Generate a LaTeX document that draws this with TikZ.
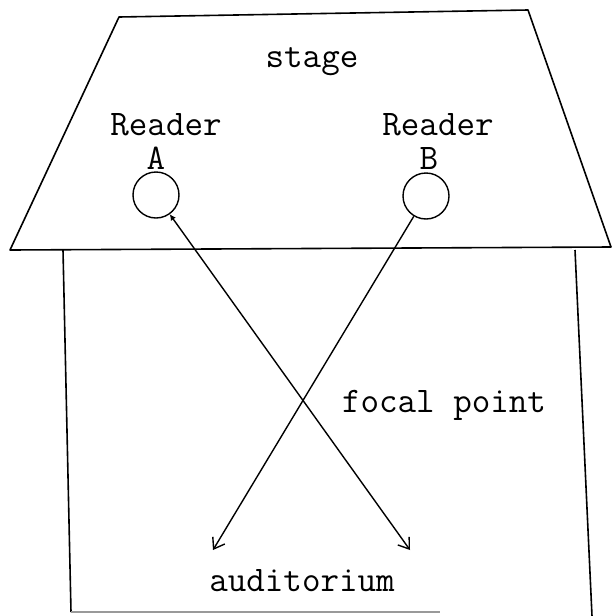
\documentclass[tikz,border=0pt]{standalone}
\usepackage{tikz}
\usetikzlibrary{arrows.meta,positioning}

\begin{document}
\begin{tikzpicture}[x=0.5pt,y=-0.5pt,
    txt/.style={font=\fontsize{18}{20}\selectfont\ttfamily,inner sep=0pt},
    reader/.style={draw,line width=0.7pt,circle,minimum size=23pt,inner sep=0pt},
    wall/.style={line width=0.8pt,line join=round},
    arr/.style={line width=0.7pt,-{Straight Barb[length=5pt,width=7pt]}}
  ]
    \useasboundingbox (0,0) rectangle (611,616);

    % stage
    \draw[wall] (119,17) -- (528,10) -- (611,247) -- (10,250) -- cycle;
    \node[txt] (stage) at (312,62) {stage};
    \node[txt] (readA) at (166,125) {Reader};
    \node[txt] (labA) at (156,158) {A};
    \node[txt] (readB) at (438,125) {Reader};
    \node[txt] (labB) at (429,158) {B};
    \node[reader] (circA) at (156,195) {};
    \node[reader] (circB) at (426,196) {};

    % auditorium
    \draw[wall] (63,250) -- (71,612);
    \draw[wall] (575,250) -- (592,616);
    \draw[line width=0.6pt,black!40] (71,612) -- (440,612);

    \coordinate (tipA) at (410,550);
    \coordinate (tipB) at (213,550);
    \draw[arr,{Latex[length=3pt,width=3pt]}-{Straight Barb[length=5pt,width=7pt]}] (circA) -- (tipA);
    \draw[arr] (circB) -- (tipB);
    \node[txt] (focal) at (444,405) {focal point};
    \node[txt] (audit) at (302,581) {auditorium};
\end{tikzpicture}
\end{document}
